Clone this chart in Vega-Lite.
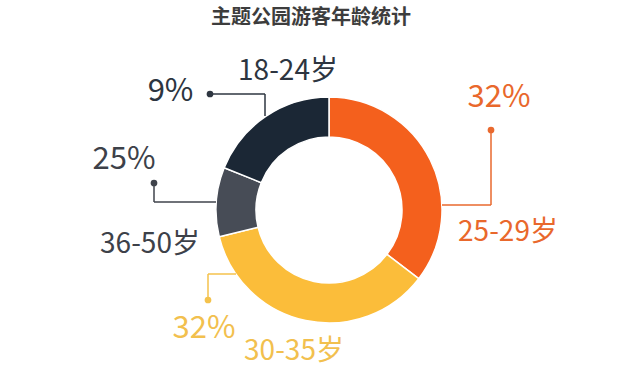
{
  "$schema": "https://vega.github.io/schema/vega-lite/v6.json",
  "width": 622,
  "height": 322,
  "autosize": {"type": "none"},
  "padding": {"left": 18, "top": 49, "right": 0, "bottom": 0},
  "background": "white",
  "title": {"text": "主题公园游客年龄统计", "font": "Noto Sans CJK SC", "fontSize": 20, "fontWeight": "bold", "color": "#3d3d3d", "anchor": "middle", "dx": -18, "offset": 21},
  "config": {"view": {"stroke": null}},
  "datasets": {
    "segments": [
      {"group": "25-29岁", "share": 35.4, "seq": 1},
      {"group": "30-35岁", "share": 35.8, "seq": 2},
      {"group": "36-50岁", "share": 9.9, "seq": 3},
      {"group": "18-24岁", "share": 18.9, "seq": 4}
    ],
    "leaders": [
      {"group": "18-24岁", "x": -119, "y": 116, "x2": -64, "y2": 116},
      {"group": "18-24岁", "x": -64, "y": 116, "x2": -64, "y2": 94},
      {"group": "36-50岁", "x": -175, "y": 27, "x2": -175, "y2": 8},
      {"group": "36-50岁", "x": -175, "y": 8, "x2": -113, "y2": 8},
      {"group": "30-35岁", "x": -121, "y": -90, "x2": -121, "y2": -64},
      {"group": "30-35岁", "x": -121, "y": -64, "x2": -93, "y2": -64},
      {"group": "25-29岁", "x": 162, "y": 80, "x2": 162, "y2": 5},
      {"group": "25-29岁", "x": 162, "y": 5, "x2": 113, "y2": 5}
    ],
    "dots": [
      {"group": "18-24岁", "x": -119, "y": 116},
      {"group": "36-50岁", "x": -175, "y": 27},
      {"group": "30-35岁", "x": -121, "y": -90},
      {"group": "25-29岁", "x": 162, "y": 80}
    ],
    "pcts": [
      {"group": "18-24岁", "label": "9%", "x": -158.5, "y": 118.5},
      {"group": "36-50岁", "label": "25%", "x": -205, "y": 50},
      {"group": "30-35岁", "label": "32%", "x": -125, "y": -118.5},
      {"group": "25-29岁", "label": "32%", "x": 170, "y": 112.5}
    ],
    "names": [
      {"group": "18-24岁", "label": "18-24岁", "x": -41, "y": 138.5},
      {"group": "36-50岁", "label": "36-50岁", "x": -179, "y": -34.5},
      {"group": "30-35岁", "label": "30-35岁", "x": -35, "y": -141.5},
      {"group": "25-29岁", "label": "25-29岁", "x": 179, "y": -22.5}
    ]
  },
  "resolve": {"scale": {"color": "independent"}},
  "layer": [
    {
      "data": {"name": "segments"},
      "mark": {"type": "arc", "innerRadius": 73, "outerRadius": 113, "stroke": "white", "strokeWidth": 1.5},
      "encoding": {
        "theta": {"field": "share", "type": "quantitative", "stack": true},
        "order": {"field": "seq", "type": "quantitative"},
        "color": {"field": "group", "type": "nominal", "legend": null,
          "scale": {"domain": ["25-29岁", "30-35岁", "36-50岁", "18-24岁"], "range": ["#f4601d", "#fbbd3a", "#474c56", "#1b2735"]}}
      }
    },
    {
      "data": {"name": "leaders"},
      "mark": {"type": "rule", "strokeWidth": 1.5},
      "encoding": {
        "x": {"field": "x", "type": "quantitative", "axis": null, "scale": {"domain": [-311, 311], "nice": false, "zero": false}},
        "y": {"field": "y", "type": "quantitative", "axis": null, "scale": {"domain": [-161, 161], "nice": false, "zero": false}},
        "x2": {"field": "x2"},
        "y2": {"field": "y2"},
        "color": {"field": "group", "type": "nominal", "legend": null,
          "scale": {"domain": ["25-29岁", "30-35岁", "36-50岁", "18-24岁"], "range": ["#e9692e", "#f4c24c", "#3f434b", "#2e3641"]}}
      }
    },
    {
      "data": {"name": "dots"},
      "mark": {"type": "point", "filled": true, "size": 45, "opacity": 1},
      "encoding": {
        "x": {"field": "x", "type": "quantitative", "axis": null, "scale": {"domain": [-311, 311], "nice": false, "zero": false}},
        "y": {"field": "y", "type": "quantitative", "axis": null, "scale": {"domain": [-161, 161], "nice": false, "zero": false}},
        "color": {"field": "group", "type": "nominal", "legend": null,
          "scale": {"domain": ["25-29岁", "30-35岁", "36-50岁", "18-24岁"], "range": ["#e9692e", "#f4c24c", "#3f434b", "#2e3641"]}}
      }
    },
    {
      "data": {"name": "pcts"},
      "mark": {"type": "text", "font": "Noto Sans CJK SC", "fontSize": 31, "fontWeight": "normal", "align": "center", "baseline": "middle"},
      "encoding": {
        "x": {"field": "x", "type": "quantitative", "axis": null, "scale": {"domain": [-311, 311], "nice": false, "zero": false}},
        "y": {"field": "y", "type": "quantitative", "axis": null, "scale": {"domain": [-161, 161], "nice": false, "zero": false}},
        "text": {"field": "label"},
        "color": {"field": "group", "type": "nominal", "legend": null,
          "scale": {"domain": ["25-29岁", "30-35岁", "36-50岁", "18-24岁"], "range": ["#e9682c", "#f2c04e", "#3d4149", "#2d3540"]}}
      }
    },
    {
      "data": {"name": "names"},
      "mark": {"type": "text", "font": "Noto Sans CJK SC", "fontSize": 28, "fontWeight": "normal", "align": "center", "baseline": "middle"},
      "encoding": {
        "x": {"field": "x", "type": "quantitative", "axis": null, "scale": {"domain": [-311, 311], "nice": false, "zero": false}},
        "y": {"field": "y", "type": "quantitative", "axis": null, "scale": {"domain": [-161, 161], "nice": false, "zero": false}},
        "text": {"field": "label"},
        "color": {"field": "group", "type": "nominal", "legend": null,
          "scale": {"domain": ["25-29岁", "30-35岁", "36-50岁", "18-24岁"], "range": ["#e9682c", "#f2c04e", "#3d4149", "#2d3540"]}}
      }
    }
  ]
}
